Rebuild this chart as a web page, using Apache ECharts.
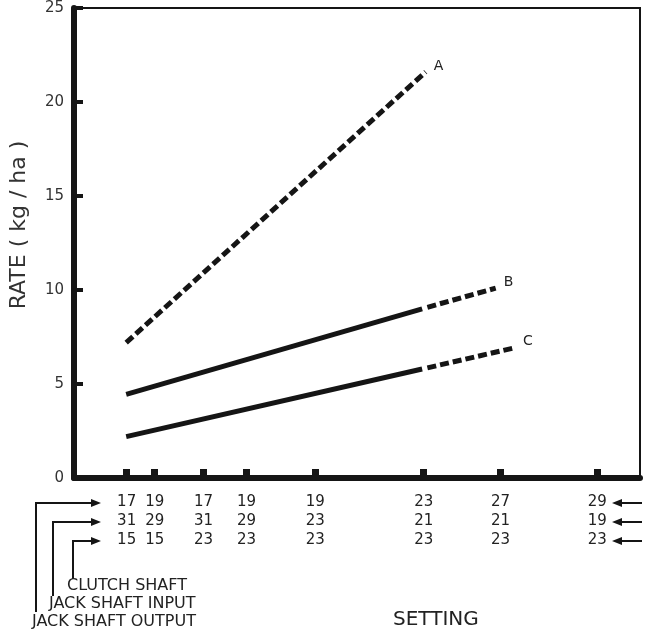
<!DOCTYPE html>
<html>
<head>
<meta charset="utf-8">
<style>
	html, body { margin: 0; padding: 0; background: #fff; }
	#RateChart { width: 645px; height: 632px; }
</style>
<script src="https://cdn.jsdelivr.net/npm/echarts@6/dist/echarts.min.js"></script>
</head>
<body>
<div id="RateChart"></div>
<script>
// gear teeth for each setting (rows under the x axis, top to bottom)
let jackShaftOutput = [17, 19, 17, 19, 19, 23, 27, 29];
let jackShaftInput = [31, 29, 31, 29, 23, 21, 21, 19];
let clutchShaft = [15, 15, 23, 23, 23, 23, 23, 23];

// lines: [drive ratio, rate kg/ha]
let lineA = [[8.2, 7.2], [25.3, 21.6]];
let lineBSolid = [[8.2, 4.45], [25.1, 9.0]];
let lineBDash = [[25.4, 9.08], [29.3, 10.1]];
let lineCSolid = [[8.2, 2.2], [25.1, 5.8]];
let lineCDash = [[25.4, 5.86], [30.4, 6.93]];

let yTicks = [0, 5, 10, 15, 20, 25];

// each setting sits at its drive ratio on the x scale
let settingPos = jackShaftOutput.map((d, i) => (d * clutchShaft[i]) / jackShaftInput[i]);

let echarts = window.echarts;
let myChart = echarts.init(document.getElementById("RateChart"));

let ink = "#151515";
let font = "DejaVu Sans";

let lineSeries = function (name, data, dashed, label) {
	return {
		name: name,
		type: "line",
		data: data,
		symbol: "none",
		silent: true,
		lineStyle: {
			color: ink,
			width: 5,
			type: dashed ? [9, 4] : "solid",
		},
		endLabel: {
			show: !!label,
			formatter: label || "",
			color: "#222",
			fontFamily: font,
			fontSize: 14,
			offset: [0, -6],
		},
	};
};

let arrowRight = function (x, y) {
	return {
		type: "polygon",
		shape: { points: [[x - 10, y - 4], [x, y], [x - 10, y + 4]] },
		style: { fill: ink },
	};
};
let arrowLeft = function (x, y) {
	return {
		type: "polygon",
		shape: { points: [[x + 10, y - 4], [x, y], [x + 10, y + 4]] },
		style: { fill: ink },
	};
};
let bracket = function (points) {
	return {
		type: "polyline",
		shape: { points: points },
		style: { stroke: ink, lineWidth: 2, fill: null },
	};
};
let note = function (text, x, y, size) {
	return {
		type: "text",
		x: x,
		y: y,
		style: {
			text: text,
			fill: "#222",
			font: size + "px '" + font + "'",
			textVerticalAlign: "middle",
		},
	};
};

let rows = [503, 522, 541];

let option = {
	animation: false,
	grid: {
		left: 70,
		right: 5,
		top: 8,
		bottom: 154,
		show: true,
		borderColor: ink,
		borderWidth: 2,
	},
	xAxis: {
		type: "value",
		min: 5.22,
		max: 37.54,
		splitLine: { show: false },
		axisLine: { lineStyle: { color: ink, width: 6 } },
		axisTick: {
			customValues: settingPos,
			inside: true,
			length: 9,
			lineStyle: { color: ink, width: 7 },
		},
		axisLabel: {
			customValues: settingPos,
			margin: 15,
			color: "#222",
			fontFamily: font,
			fontSize: 15,
			lineHeight: 19,
			formatter: function (value) {
				let i = settingPos.findIndex((p) => Math.abs(p - value) < 1e-6);
				if (i < 0) {
					return "";
				}
				return jackShaftOutput[i] + "\n" + jackShaftInput[i] + "\n" + clutchShaft[i];
			},
		},
	},
	yAxis: {
		type: "value",
		min: yTicks[0],
		max: yTicks[yTicks.length - 1],
		interval: 5,
		splitLine: { show: false },
		name: "RATE ( kg / ha )",
		nameLocation: "middle",
		nameGap: 44,
		nameTextStyle: {
			color: "#333",
			fontFamily: font,
			fontSize: 22,
			padding: [0, 0, 0, 36],
		},
		axisLine: { lineStyle: { color: ink, width: 6 } },
		axisTick: {
			inside: true,
			length: 9,
			lineStyle: { color: ink, width: 4 },
		},
		axisLabel: {
			margin: 10,
			color: "#333",
			fontFamily: font,
			fontSize: 15,
		},
	},
	series: [
		lineSeries("A", lineA, true, "A"),
		lineSeries("B", lineBSolid, false),
		lineSeries("B dashed", lineBDash, true, "B"),
		lineSeries("C", lineCSolid, false),
		lineSeries("C dashed", lineCDash, true, "C"),
	],
	graphic: [
		bracket([[36, 612], [36, rows[0]], [92, rows[0]]]),
		arrowRight(101, rows[0]),
		bracket([[53, 596], [53, rows[1]], [92, rows[1]]]),
		arrowRight(101, rows[1]),
		bracket([[73, 579], [73, rows[2]], [92, rows[2]]]),
		arrowRight(101, rows[2]),
		bracket([[621, rows[0]], [642, rows[0]]]),
		arrowLeft(612, rows[0]),
		bracket([[621, rows[1]], [642, rows[1]]]),
		arrowLeft(612, rows[1]),
		bracket([[621, rows[2]], [642, rows[2]]]),
		arrowLeft(612, rows[2]),
		note("CLUTCH SHAFT", 67, 586, 16),
		note("JACK SHAFT INPUT", 49, 604, 16),
		note("JACK SHAFT OUTPUT", 32, 622, 16),
		note("SETTING", 393, 620, 20),
	],
};

myChart.setOption(option);
</script>
</body>
</html>
